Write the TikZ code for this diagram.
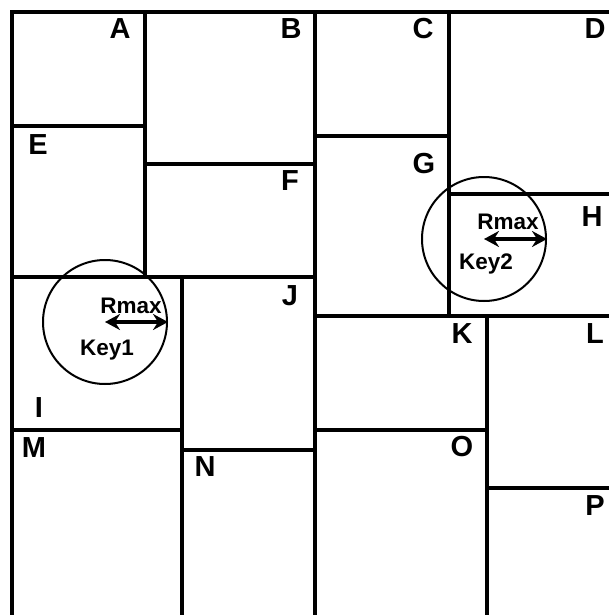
\documentclass[tikz,border=0pt]{standalone}
\usepackage{fontspec}
\setmainfont{Liberation Sans}
\usetikzlibrary{arrows.meta,shapes.geometric}

\tikzset{
  wall/.style={line width=4pt},
  cell/.style={font=\fontsize{29}{30}\selectfont\bfseries, inner sep=0pt},
  tag/.style={font=\fontsize{22.5}{24}\selectfont\bfseries, inner sep=0pt, anchor=base},
  keyring/.style={circle, draw, line width=2pt, minimum size=124pt, inner sep=0pt},
  reach/.style={line width=3.5pt, {Stealth[length=15pt,width=16pt,inset=5pt]}-{Stealth[length=15pt,width=16pt,inset=5pt]}},
}

\begin{document}
\begin{tikzpicture}[x=1pt,y=-1pt]
  \useasboundingbox (0,0) rectangle (609,615);
  % outer frame
  \draw[wall] (12,615) -- (12,12) -- (609,12);
  % vertical walls
  \draw[wall] (145,12) -- (145,277);
  \draw[wall] (315,12) -- (315,615);
  \draw[wall] (449,12) -- (449,316);
  \draw[wall] (182,277) -- (182,615);
  \draw[wall] (487,316) -- (487,615);
  % horizontal walls
  \draw[wall] (12,126) -- (145,126);
  \draw[wall] (145,164) -- (315,164);
  \draw[wall] (12,277) -- (315,277);
  \draw[wall] (315,136) -- (449,136);
  \draw[wall] (449,194) -- (609,194);
  \draw[wall] (315,316) -- (609,316);
  \draw[wall] (315,430) -- (487,430);
  \draw[wall] (487,488) -- (609,488);
  \draw[wall] (12,430) -- (182,430);
  \draw[wall] (182,450) -- (315,450);
  % cell labels
  \node[cell] (la) at (120,28.5) {A};
  \node[cell] (lb) at (291,28.5) {B};
  \node[cell] (lc) at (423,28.5) {C};
  \node[cell] (ld) at (595,28.5) {D};
  \node[cell] (le) at (38,145) {E};
  \node[cell] (lf) at (290,181) {F};
  \node[cell] (lg) at (424,164) {G};
  \node[cell] (lh) at (592,217) {H};
  \node[cell] (li) at (39,408) {I};
  \node[cell] (lj) at (290,296) {J};
  \node[cell] (lk) at (462,334) {K};
  \node[cell] (ll) at (595,334) {L};
  \node[cell] (lm) at (34,448) {M};
  \node[cell] (ln) at (205,467) {N};
  \node[cell] (lo) at (462,447) {O};
  \node[cell] (lp) at (595,506) {P};
  % search ranges
  \node[keyring] (key1) at (105,322) {};
  \node[keyring] (key2) at (484,239) {};
  \draw[reach] (key1.center) -- (key1.east);
  \draw[reach] (key2.center) -- (key2.east);
  \node[tag] (rmax1) at (131,313) {Rmax};
  \node[tag] (rmax2) at (508,229) {Rmax};
  \node[tag] (name1) at (107,355) {Key1};
  \node[tag] (name2) at (486,269) {Key2};
\end{tikzpicture}
\end{document}
